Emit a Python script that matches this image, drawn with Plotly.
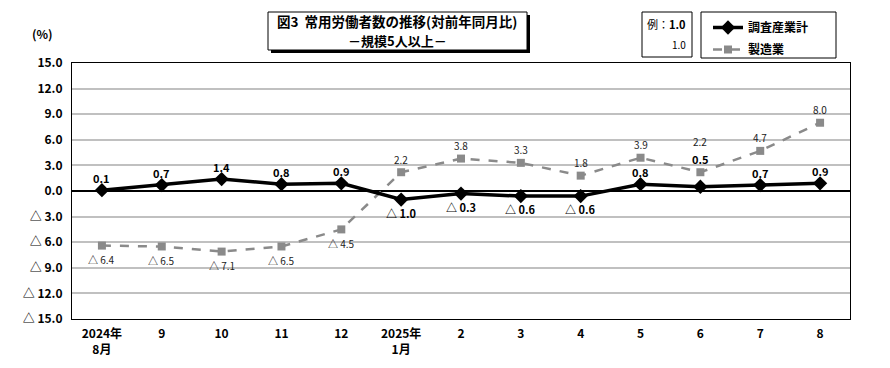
import plotly.graph_objects as go

categories = ["2024年<br>8月", "9", "10", "11", "12", "2025年<br>1月", "2", "3", "4", "5", "6", "7", "8"]
total_vals = [0.1, 0.7, 1.4, 0.8, 0.9, -1.0, -0.3, -0.6, -0.6, 0.8, 0.5, 0.7, 0.9]
mfg_vals = [-6.4, -6.5, -7.1, -6.5, -4.5, 2.2, 3.8, 3.3, 1.8, 3.9, 2.2, 4.7, 8.0]
y_ticks = [15, 12, 9, 6, 3, 0, -3, -6, -9, -12, -15]

FONT = "Noto Sans CJK JP"
NARROW = "Liberation Sans Narrow, Noto Sans CJK JP"
GRAY = "#8a8a8a"

def fmt(v):
    return f"{v:.1f}" if v >= 0 else f"△ {abs(v):.1f}"

xs = list(range(len(categories)))
fig = go.Figure()
fig.add_trace(go.Scatter(
    x=xs, y=mfg_vals, name="<b>製造業</b>", mode="lines+markers", legendgroup="m", legendrank=2,
    line=dict(color=GRAY, width=2.5, dash="dash"),
    marker=dict(symbol="square", size=8, color=GRAY),
))
fig.add_trace(go.Scatter(
    x=xs, y=total_vals, name="<b>調査産業計</b>", mode="lines+markers", legendgroup="t", legendrank=1,
    line=dict(color="black", width=3.5),
    marker=dict(symbol="diamond", size=11, color="black"),
))

W, H = 890, 368
L, R, T, B = 72, 850, 63, 319

def px(x):
    return (x - L) / (R - L)

def py(y):
    return (B - y) / (B - T)

annotations = []
for i, v in enumerate(total_vals):
    shift = 12 if v >= 0 else -13
    if i == 10:
        shift = 28
    annotations.append(dict(x=i, y=v, xref="x", yref="y", text=f"<b>{fmt(v)}</b>", showarrow=False,
                            yshift=shift, font=dict(family=NARROW, size=11, color="black")))
for i, v in enumerate(mfg_vals):
    shift = 13 if v >= 0 else -14
    if i == 10:
        shift = 31
    annotations.append(dict(x=i, y=v, xref="x", yref="y", text=fmt(v), showarrow=False,
                            yshift=shift, font=dict(family=NARROW, size=10, color="#222")))

def paper_text(x, y, text, size=12, xanchor="center"):
    return dict(x=px(x), y=py(y), xref="paper", yref="paper", text=text, showarrow=False,
                xanchor=xanchor, yanchor="middle", font=dict(family=FONT, size=size, color="black"))

annotations.append(paper_text(42, 33, "<b>(%)</b>"))

shapes = [
    dict(type="rect", xref="paper", yref="paper", x0=px(271), x1=px(530), y0=py(53), y1=py(15),
         fillcolor="black", line=dict(width=0), layer="above"),
    dict(type="rect", xref="paper", yref="paper", x0=px(268), x1=px(527), y0=py(50), y1=py(12),
         fillcolor="white", line=dict(color="black", width=1), layer="above"),
    dict(type="rect", xref="paper", yref="paper", x0=px(642), x1=px(692), y0=py(57), y1=py(12),
         fillcolor="white", line=dict(color="black", width=1), layer="above"),
    dict(type="rect", xref="paper", yref="paper", x0=px(701), x1=px(836), y0=py(58), y1=py(12),
         fillcolor="white", line=dict(color="black", width=1), layer="above"),
]
annotations.append(paper_text(397, 21, "<b>図3  常用労働者数の推移(対前年同月比)</b>", size=13.5))
annotations.append(paper_text(397, 40, "<b>－規模5人以上－</b>", size=13))
annotations.append(paper_text(688, 24, "例：<b>1.0</b>", size=11, xanchor="right"))
annotations.append(paper_text(688, 44, "1.0", size=10, xanchor="right"))

fig.update_layout(
    width=W, height=H,
    margin=dict(l=L, r=W - R, t=T, b=H - B, autoexpand=False),
    paper_bgcolor="white", plot_bgcolor="white",
    font=dict(family=FONT, size=12, color="black"),
    showlegend=True,
    legend=dict(x=px(708), y=py(13), xanchor="left", yanchor="top", traceorder="grouped",
                borderwidth=0, bgcolor="rgba(0,0,0,0)",
                font=dict(family=FONT, size=12, color="black"), itemwidth=30,
                tracegroupgap=3),
    xaxis=dict(range=[-0.5, 12.5], tickvals=xs, ticktext=[f"<b>{c}</b>" for c in categories],
               showgrid=False, showline=True, linecolor="black", linewidth=1, mirror=True,
               ticks="", zeroline=False, fixedrange=True, tickfont=dict(size=12), automargin=False,
               ticklabelstandoff=4),
    yaxis=dict(range=[-15, 15], tickvals=y_ticks, ticktext=[f"<b>{fmt(v)}</b>" for v in y_ticks],
               showgrid=True, gridcolor="#c0c0c0", gridwidth=1.5,
               zeroline=True, zerolinecolor="black", zerolinewidth=1.5,
               showline=True, linecolor="black", linewidth=1, mirror=True, ticks="",
               tickfont=dict(size=12), fixedrange=True, automargin=False, ticklabelstandoff=6),
    annotations=annotations,
    shapes=shapes,
)

fig.write_html("out.html", config={"displayModeBar": False},
               post_script="document.body.style.margin='0';")
